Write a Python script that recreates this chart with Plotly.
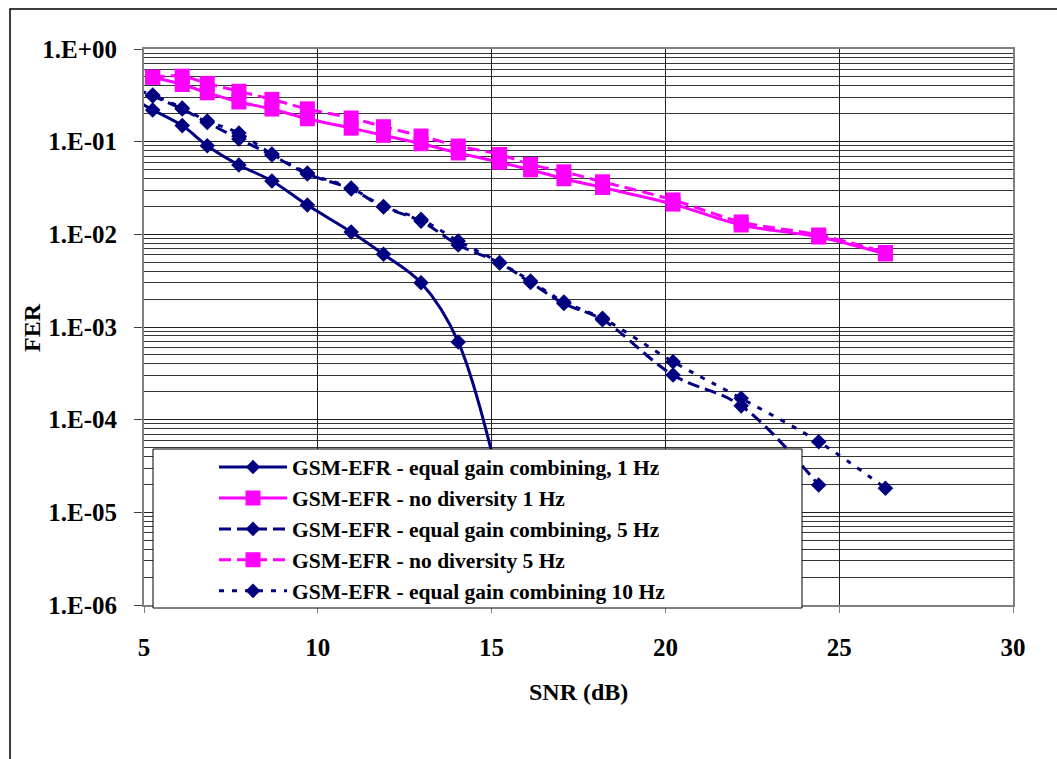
import plotly.graph_objects as go

# ---------------- data ----------------
egc_1hz_snr = [4.74, 5.25, 6.10, 6.82, 7.73, 8.68, 9.70, 10.96, 11.89, 12.97, 14.04, 15.60]
egc_1hz_fer = [0.282, 0.22, 0.149, 0.0905, 0.056, 0.0377, 0.0207, 0.0106, 0.0061, 0.0030, 0.00069, 5e-6]

nodiv_snr = [5.25, 6.10, 6.82, 7.73, 8.68, 9.70, 10.96, 11.89, 12.97, 14.04, 15.23, 16.12,
             17.08, 18.19, 20.22, 22.18, 24.41, 26.33]
nodiv_1hz_fer = [0.496, 0.414, 0.337, 0.268, 0.225, 0.177, 0.140, 0.117, 0.095, 0.0755, 0.060, 0.0497,
                 0.0398, 0.032, 0.0212, 0.0126, 0.00936, 0.00614]
nodiv_5hz_fer = [0.496, 0.509, 0.425, 0.350, 0.286, 0.226, 0.180, 0.145, 0.115, 0.0898, 0.0727, 0.0567,
                 0.0473, 0.0369, 0.0235, 0.0136, 0.00984, 0.00637]

egc_5hz_snr = [4.74, 5.25, 6.10, 6.82, 7.73, 8.68, 9.70, 10.96, 11.89, 12.97, 14.04, 15.23, 16.12,
               17.08, 18.19, 20.22, 22.18, 24.41]
egc_5hz_fer = [0.379, 0.311, 0.225, 0.161, 0.107, 0.0718, 0.0448, 0.0308, 0.0197, 0.0139, 0.00767,
               0.00491, 0.00302, 0.00179, 0.00120, 0.000303, 0.000141, 1.97e-5]

egc_10hz_snr = [4.74, 5.25, 6.10, 6.82, 7.73, 8.68, 9.70, 10.96, 11.89, 12.97, 14.04, 15.23, 16.12,
                17.08, 18.19, 20.22, 22.18, 24.41, 26.33]
egc_10hz_fer = [0.379, 0.319, 0.231, 0.167, 0.124, 0.0736, 0.0459, 0.0316, 0.0200, 0.0145, 0.00848,
                0.00497, 0.00314, 0.00186, 0.00124, 0.000422, 0.00017, 5.78e-5, 1.82e-5]

y_tick_vals = [1e0, 1e-1, 1e-2, 1e-3, 1e-4, 1e-5, 1e-6]
y_tick_text = ["1.E+00", "1.E-01", "1.E-02", "1.E-03", "1.E-04", "1.E-05", "1.E-06"]
y_minor_vals = [m * 10.0 ** e for e in range(-6, 0) for m in range(2, 10)]
x_tick_vals = [5, 10, 15, 20, 25, 30]
X_MIN, X_MAX = 5, 30

names = [
    "GSM-EFR - equal gain combining, 1 Hz",
    "GSM-EFR - no diversity 1 Hz",
    "GSM-EFR - equal gain combining, 5 Hz",
    "GSM-EFR - no diversity 5 Hz",
    "GSM-EFR - equal gain combining 10 Hz",
]

NAVY = "#000080"
PINK = "#FF00FF"
FONT = "Liberation Serif, 'Times New Roman', Times, serif"

fig = go.Figure()

def add(x, y, name, color, dash, symbol, size):
    # points left of the axis start keep their line segment (as in the source)
    # but their marker is hidden
    sizes = [size if xi >= X_MIN else 0 for xi in x]
    fig.add_trace(go.Scatter(
        x=x, y=y, name=name, mode="lines+markers", cliponaxis=False,
        line=dict(color=color, width=3, dash=dash, shape="spline", smoothing=1),
        marker=dict(symbol=symbol, size=sizes, color=color, opacity=1,
                    line=dict(width=0, color=color)),
    ))

add(egc_1hz_snr, egc_1hz_fer, names[0], NAVY, "solid", "diamond", 12)
add(nodiv_snr, nodiv_1hz_fer, names[1], PINK, "solid", "square", 15)
add(egc_5hz_snr, egc_5hz_fer, names[2], NAVY, "12px,6px", "diamond", 12)
add(nodiv_snr, nodiv_5hz_fer, names[3], PINK, "12px,6px", "square", 15)
add(egc_10hz_snr, egc_10hz_fer, names[4], NAVY, "5px,8px", "diamond", 12)

L, R, T, B = 144, 1013, 49, 605
W, H = 1057, 759
pw, ph = R - L, B - T

def px(xp):
    return (xp - L) / pw

def py(yp):
    return (B - yp) / ph

tickfont = dict(family=FONT, size=25, color="black", weight="bold")

fig.update_layout(
    width=W, height=H,
    margin=dict(l=L, r=W - R, t=T, b=H - B),
    paper_bgcolor="white", plot_bgcolor="white",
    showlegend=True,
    legend=dict(
        x=px(214), y=py(446.5), xanchor="left", yanchor="top",
        bgcolor="rgba(0,0,0,0)", borderwidth=0,
        font=dict(family=FONT, size=21.5, color="black", weight="bold"),
        itemwidth=68, tracegroupgap=0, itemsizing="trace",
    ),
    xaxis=dict(
        range=[X_MIN, X_MAX], tickvals=x_tick_vals, showgrid=True, gridcolor="#202020", gridwidth=1,
        showline=True, linecolor="#808080", linewidth=2, mirror=True,
        ticks="outside", ticklen=6, tickcolor="#808080", tickfont=tickfont,
        ticklabelstandoff=13, zeroline=False,
    ),
    yaxis=dict(
        type="log", range=[-6, 0], tickvals=y_tick_vals, ticktext=y_tick_text,
        showgrid=True, gridcolor="#202020", gridwidth=1,
        minor=dict(tickvals=y_minor_vals, showgrid=True, gridcolor="#353535", gridwidth=1, ticks=""),
        showline=True, linecolor="#808080", linewidth=2, mirror=True,
        ticks="outside", ticklen=8, tickcolor="#404040", tickfont=tickfont,
        ticklabelstandoff=12, zeroline=False,
    ),
    shapes=[
        # outer chart-area border (cropped on right and bottom)
        dict(type="rect", xref="paper", yref="paper",
             x0=px(10), x1=px(1080), y0=py(780), y1=py(9),
             line=dict(color="black", width=1.5), fillcolor="rgba(0,0,0,0)", layer="below"),
        # legend box
        dict(type="rect", xref="paper", yref="paper",
             x0=px(153), x1=px(802), y0=py(608), y1=py(449),
             line=dict(color="black", width=1), fillcolor="white", layer="above"),
    ],
    annotations=[
        dict(text="FER", xref="paper", yref="paper", x=px(32), y=py(327),
             showarrow=False, textangle=-90, xanchor="center", yanchor="middle",
             font=dict(family=FONT, size=24, color="black", weight="bold")),
        dict(text="SNR (dB)", xref="paper", yref="paper", x=0.5, y=py(692),
             showarrow=False, xanchor="center", yanchor="middle",
             font=dict(family=FONT, size=24, color="black", weight="bold")),
    ],
)

fig.write_html("out.html")
